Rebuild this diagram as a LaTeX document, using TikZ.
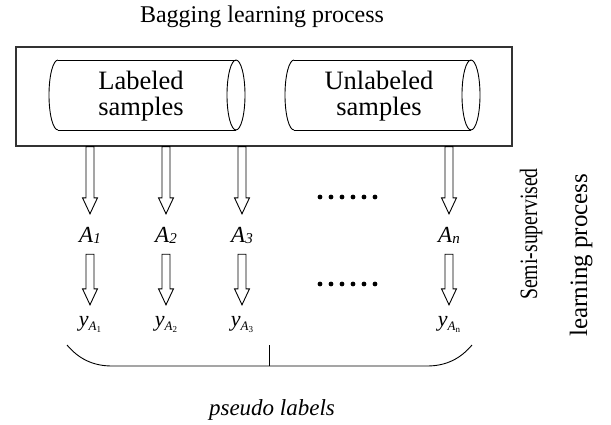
\documentclass[tikz,border=0pt]{standalone}
\usepackage{fontspec}
\setmainfont{Liberation Serif}
\usetikzlibrary{calc}
\begin{document}
\begin{tikzpicture}[x=1pt,y=-1pt,
  frame/.style={draw=black!80, line width=1.2pt},
  outline/.style={draw=black, line width=0.9pt},
  storetext/.style={font=\fontsize{26.5}{26}\selectfont, align=center, inner sep=0pt},
  algo/.style={font=\fontsize{23}{23}\selectfont\itshape, inner sep=0pt, anchor=base,
    text height=15pt, text depth=0pt},
  plabel/.style={font=\fontsize{22}{22}\selectfont\itshape, inner sep=0pt, anchor=base,
    text height=9pt, text depth=0pt},
  hollow/.style={outline, to path={
    let \p1=(\tikztostart), \p2=(\tikztotarget) in
    (\x1-4pt,\y1) -- (\x1-4pt,\y2+16pt) -- (\x1-7.5pt,\y2+16pt) -- (\x1,\y2)
    -- (\x1+7.5pt,\y2+16pt) -- (\x1+4pt,\y2+16pt) -- (\x1+4pt,\y1) -- cycle}},
  sidetext/.style={rotate=90, anchor=base west, inner sep=0pt,
    font=\fontsize{25}{25}\selectfont},
]
\useasboundingbox (0,0) rectangle (611,424);

% title and outer frame
\node[font=\fontsize{24}{24}\selectfont, anchor=base] (title) at (262,22) {Bagging learning process};
\node[frame, minimum width=496pt, minimum height=99pt, inner sep=0pt] (box) at (264,96.5) {};

% labeled store
\draw[outline] (58,60) -- (236,60) (58,130) -- (236,130);
\draw[outline] (58,60) arc[start angle=270, end angle=90, x radius=9, y radius=35];
\draw[outline] (236,95) ellipse[x radius=9, y radius=35];
\node[storetext] (lab) at (141,96) {Labeled\\samples};

% unlabeled store
\draw[outline] (294,60) -- (471,60) (294,130) -- (471,130);
\draw[outline] (294,60) arc[start angle=270, end angle=90, x radius=9, y radius=35];
\draw[outline] (471,95) ellipse[x radius=9, y radius=35];
\node[storetext] (unl) at (379,96) {Unlabeled\\samples};

% base learners
\node[algo] (a1) at (90,242) {A\raisebox{-1pt}{\fontsize{15}{15}\selectfont 1}};
\node[algo] (a2) at (166,242) {A\raisebox{-1pt}{\fontsize{15}{15}\selectfont 2}};
\node[algo] (a3) at (242,242) {A\raisebox{-1pt}{\fontsize{15}{15}\selectfont 3}};
\node[algo] (an) at (449,242) {A\raisebox{-1pt}{\fontsize{15}{15}\selectfont n}};

% predicted labels
\node[plabel] (y1) at (90,326) {y\raisebox{-4pt}{\fontsize{13}{13}\selectfont A\raisebox{-2pt}{\fontsize{9}{9}\selectfont\upshape 1}}};
\node[plabel] (y2) at (166,326) {y\raisebox{-4pt}{\fontsize{13}{13}\selectfont A\raisebox{-2pt}{\fontsize{9}{9}\selectfont\upshape 2}}};
\node[plabel] (y3) at (242,326) {y\raisebox{-4pt}{\fontsize{13}{13}\selectfont A\raisebox{-2pt}{\fontsize{9}{9}\selectfont\upshape 3}}};
\node[plabel] (yn) at (449,326) {y\raisebox{-4pt}{\fontsize{13}{13}\selectfont A\raisebox{-2pt}{\fontsize{9}{9}\selectfont\upshape n}}};

% hollow arrows
\foreach \k in {1,2,3,n} {
  \draw[hollow] (box.south -| a\k) to ([yshift=13pt]a\k.north);
  \draw[hollow] ([yshift=-12pt]a\k.south) to ([yshift=12pt]y\k.north);
}

% ellipsis dots
\foreach \i in {0,...,5} {
  \fill (320+11*\i,197) circle[radius=2.4];
  \fill (320+11*\i,284) circle[radius=2.4];
}

% brace collecting the pseudo labels
\coordinate (bl) at (67,345);
\coordinate (br) at (472,345);
\coordinate (bm) at (269.5,366);
\draw[outline] (bl) .. controls (78,358) and (92,366) .. (112,366) -- (427,366)
  .. controls (447,366) and (461,358) .. (br);
\node[font=\fontsize{23}{23}\selectfont\itshape, anchor=base] (pseudo) at (272,415) {pseudo labels};
\draw[outline] (bm) -- ([yshift=21pt]bm.center);

% side caption
\node[sidetext] (semi) at (537,300) {\scalebox{0.79}[1]{Semi-supervised}};
\node[sidetext] (lp) at (587,337) {learning process};
\end{tikzpicture}
\end{document}
